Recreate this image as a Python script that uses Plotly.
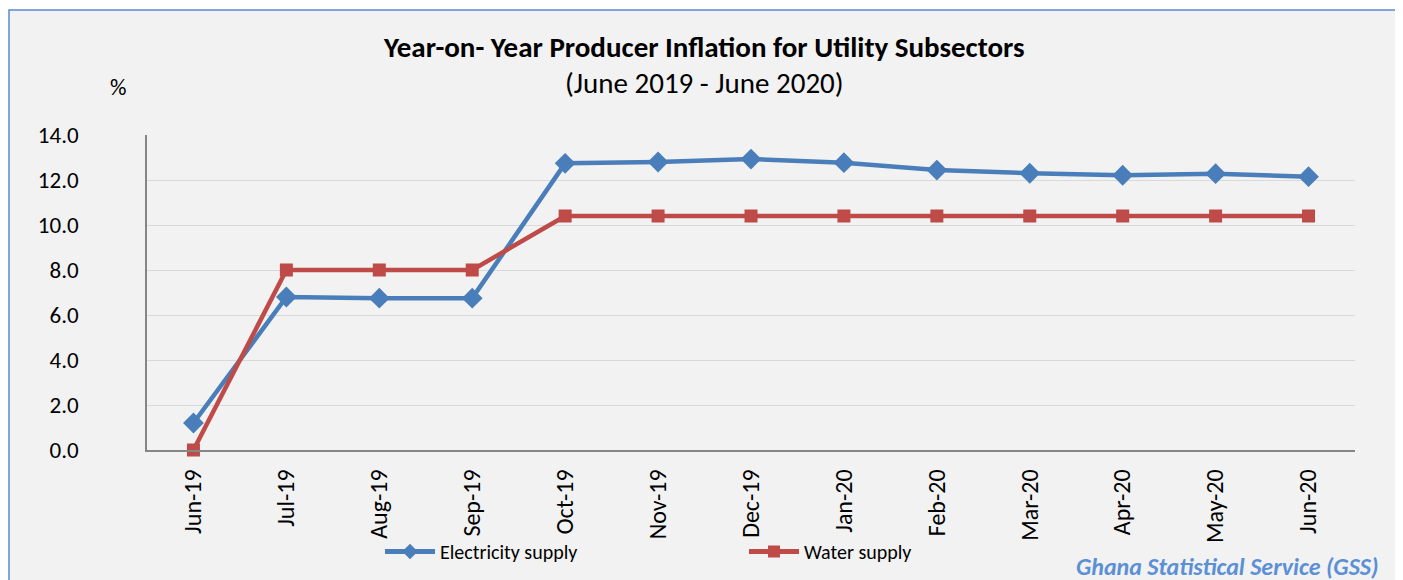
import plotly.graph_objects as go

months = ["Jun-19", "Jul-19", "Aug-19", "Sep-19", "Oct-19", "Nov-19", "Dec-19",
          "Jan-20", "Feb-20", "Mar-20", "Apr-20", "May-20", "Jun-20"]
electricity = [1.2, 6.8, 6.75, 6.75, 12.74, 12.8, 12.93, 12.77, 12.44, 12.3, 12.21, 12.28, 12.15]
water = [0.0, 8.0, 8.0, 8.0, 10.4, 10.4, 10.4, 10.4, 10.4, 10.4, 10.4, 10.4, 10.4]
y_ticks = [0, 2, 4, 6, 8, 10, 12, 14]

FONT = "Carlito, Open Sans, Liberation Sans, sans-serif"
BLUE = "#4a7ebb"
RED = "#be4b48"

fig = go.Figure()
fig.add_trace(go.Scatter(x=months, y=electricity, name="Electricity supply", mode="lines+markers",
                         line=dict(color=BLUE, width=4.5), cliponaxis=False,
                         marker=dict(symbol="diamond", size=16, color=BLUE)))
fig.add_trace(go.Scatter(x=months, y=water, name="Water supply", mode="lines+markers",
                         line=dict(color=RED, width=4.5), cliponaxis=False,
                         marker=dict(symbol="square", size=13, color=RED)))

# figure is placed with an 8px page offset; all px values below are figure coords
W, H = 1395, 572
L, T = 139, 127
R = W - L - 1208
B = H - T - 315
pw, ph = W - L - R, H - T - B


def px_x(px):
    return (px - L) / pw


def px_y(py):
    return (H - B - py) / ph


fig.add_shape(type="rect", xref="paper", yref="paper",
              x0=px_x(1), x1=px_x(1389), y0=px_y(575), y1=px_y(2),
              line=dict(color="#5b8bd0", width=1.5), fillcolor="#f2f2f2", layer="below")

fig.update_layout(
    width=W, height=H,
    margin=dict(l=L, r=R, t=T, b=B, autoexpand=False),
    paper_bgcolor="white", plot_bgcolor="white",
    font=dict(family=FONT, size=18, color="black"),
    showlegend=True,
    legend=dict(orientation="h", x=px_x(372), y=px_y(524), xanchor="left", yanchor="top",
                font=dict(size=20, family=FONT), entrywidth=299, entrywidthmode="pixels",
                itemwidth=50, itemsizing="constant", bgcolor="rgba(0,0,0,0)"),
    xaxis=dict(type="category", tickangle=-90, range=[-0.5, 12.5], automargin=False,
               showgrid=False, showline=True, linecolor="#868686", linewidth=1.5,
               ticks="", ticklabelstandoff=8,
               tickfont=dict(size=24, family=FONT)),
    yaxis=dict(range=[0, 14], tickvals=y_ticks, tickformat=".1f", automargin=False,
               showgrid=True, gridcolor="#d9d9d9", gridwidth=1.2,
               showline=True, linecolor="#868686", linewidth=1.5,
               ticks="", ticklabelstandoff=62,
               tickfont=dict(size=23, family=FONT), zeroline=False),
)

fig.add_annotation(text="<b>Year-on- Year Producer Inflation for Utility Subsectors</b>",
                   xref="paper", yref="paper", x=px_x(696), y=px_y(39),
                   xanchor="center", yanchor="middle", showarrow=False,
                   font=dict(size=29, family=FONT))
fig.add_annotation(text="(June 2019 - June 2020)",
                   xref="paper", yref="paper", x=px_x(696), y=px_y(75),
                   xanchor="center", yanchor="middle", showarrow=False,
                   font=dict(size=29, family=FONT))
fig.add_annotation(text="%", xref="paper", yref="paper", x=px_x(110), y=px_y(79),
                   xanchor="center", yanchor="middle", showarrow=False,
                   font=dict(size=23, family=FONT))
fig.add_annotation(text="<b><i>Ghana Statistical Service (GSS)</i></b>",
                   xref="paper", yref="paper", x=px_x(1372), y=px_y(558),
                   xanchor="right", yanchor="middle", showarrow=False,
                   font=dict(size=24, family=FONT, color="#5b8fd6"))

fig.write_html("out.html")
